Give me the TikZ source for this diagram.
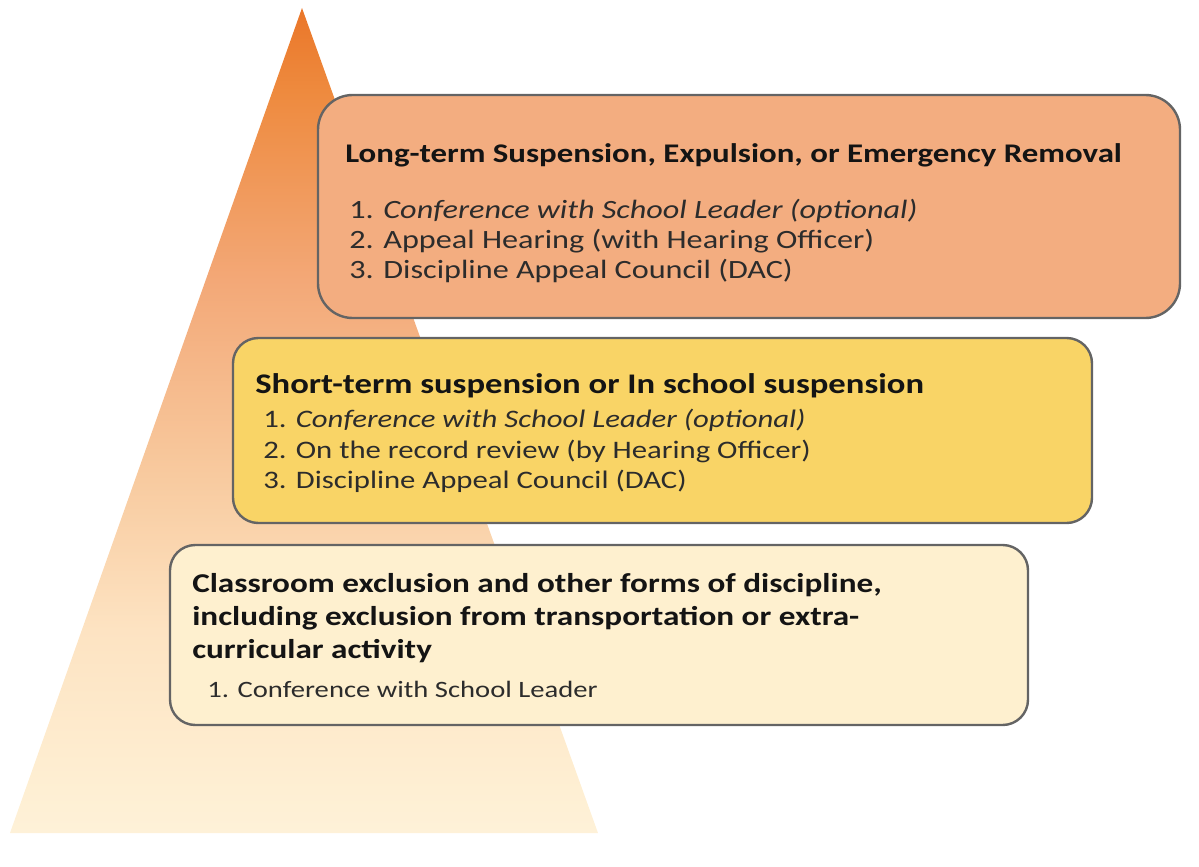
\documentclass[tikz,border=0pt]{standalone}
\usepackage{fontspec}
\setmainfont{Carlito}[FakeStretch=1.22]
\definecolor{triA}{HTML}{EA7629}
\definecolor{triB}{HTML}{EE8A3E}
\definecolor{triC}{HTML}{F3A877}
\definecolor{triD}{HTML}{F8CBA0}
\definecolor{triE}{HTML}{FDE3C2}
\definecolor{triF}{HTML}{FEEFD3}
\definecolor{triG}{HTML}{FEF1D8}
\definecolor{boxA}{HTML}{F3AD80}
\definecolor{boxB}{HTML}{F9D466}
\definecolor{boxC}{HTML}{FEF0CF}
\definecolor{edge}{HTML}{646464}
\definecolor{ink}{HTML}{141414}
\definecolor{inkb}{HTML}{2C2C2C}
\pgfdeclareverticalshading{pyrshade}{100bp}{color(0bp)=(triG); color(25bp)=(triG); color(27.6bp)=(triF); color(37.3bp)=(triE); color(46.4bp)=(triD); color(58.5bp)=(triC); color(70bp)=(triB); color(75bp)=(triA); color(100bp)=(triA)}
\tikzset{
  tierbox/.style={draw=edge, line width=1.8pt, inner sep=0pt},
  titletext/.style={anchor=base west, inner sep=0pt, text=ink, font=\bfseries\fontsize{20.2}{24}\selectfont},
  itemtext/.style={anchor=base west, inner sep=0pt, text=inkb, font=\fontsize{19.8}{24}\selectfont},
}
\begin{document}
\begin{tikzpicture}[x=0.75pt,y=-0.75pt]
\useasboundingbox (0,0) rectangle (1199,867);
% pyramid
\shade[shading=pyrshade] (302,8) -- (598,833) -- (10,833) -- cycle;
% boxes
\node[tierbox, fill=boxA, rounded corners=26pt, minimum width=646.5pt, minimum height=167.25pt] (tier3) at (749,206.5) {};
\node[tierbox, fill=boxB, rounded corners=19pt, minimum width=644.25pt, minimum height=138.75pt] (tier2) at (662.5,430.5) {};
\node[tierbox, fill=boxC, rounded corners=19pt, minimum width=643.5pt, minimum height=135pt] (tier1) at (599,635) {};
% box 1 text
\node[titletext] (t3title) at (345,162) {Long-term Suspension, Expulsion, or Emergency Removal};
\node[itemtext] (t3a) at (349,218) {1. \textit{Conference with School Leader (optional)}};
\node[itemtext] (t3b) at (349,248) {2. Appeal Hearing (with Hearing Officer)};
\node[itemtext] (t3c) at (349,278) {3. Discipline Appeal Council (DAC)};
% box 2 text
\node[titletext, font=\bfseries\fontsize{21.3}{25}\selectfont] (t2title) at (255,393) {Short-term suspension or In school suspension};
\node[itemtext, font=\fontsize{18.9}{23}\selectfont] (t2a) at (263,427) {1. \textit{Conference with School Leader (optional)}};
\node[itemtext, font=\fontsize{18.9}{23}\selectfont] (t2b) at (263,458) {2. On the record review (by Hearing Officer)};
\node[itemtext, font=\fontsize{18.9}{23}\selectfont] (t2c) at (263,488) {3. Discipline Appeal Council (DAC)};
% box 3 text
\node[titletext, font=\bfseries\fontsize{20.4}{25}\selectfont] (t1l1) at (192,592) {Classroom exclusion and other forms of discipline,};
\node[titletext, font=\bfseries\fontsize{20.4}{25}\selectfont] (t1l2) at (192,625) {including exclusion from transportation or extra-};
\node[titletext, font=\bfseries\fontsize{20.4}{25}\selectfont] (t1l3) at (192,658) {curricular activity};
\node[itemtext, font=\fontsize{17.6}{20}\selectfont] (t1a) at (207,697) {1. Conference with School Leader};
\end{tikzpicture}
\end{document}
